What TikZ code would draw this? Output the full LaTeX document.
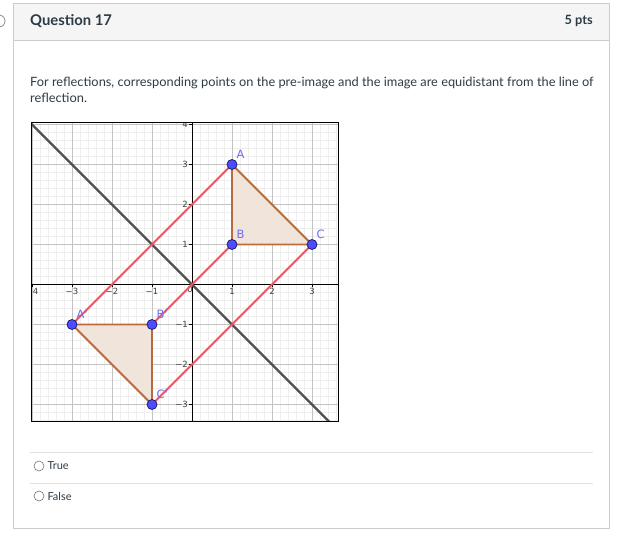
\documentclass[tikz,border=0pt]{standalone}
\usepackage{fontspec}
\setmainfont{Lato}
\newfontfamily\ggbfont{DejaVu Sans}
\usetikzlibrary{positioning}
\definecolor{qborder}{RGB}{199,205,209}
\definecolor{qhead}{RGB}{245,245,245}
\definecolor{qtext}{RGB}{45,59,69}
\definecolor{qsep}{RGB}{222,226,228}
\definecolor{gmajor}{RGB}{195,195,195}
\definecolor{gminor}{RGB}{238,238,238}
\definecolor{reflred}{RGB}{240,82,98}
\definecolor{mirrorgray}{RGB}{80,80,80}
\definecolor{triedge}{RGB}{184,108,62}
\definecolor{trifill}{RGB}{241,228,219}
\definecolor{ptblue}{RGB}{77,77,255}
\definecolor{ptdark}{RGB}{30,30,110}
\definecolor{ptlab}{RGB}{110,110,240}
\tikzset{
  refl/.style={reflred,line width=1.8pt},
  mirror/.style={mirrorgray,line width=2.2pt},
  tri/.style={draw=triedge,fill=trifill,line width=1.8pt,line join=round},
  pt/.style={circle,fill=ptblue,draw=ptdark,line width=0.8pt,minimum size=10pt,inner sep=0pt},
  ptlabel/.style={text=ptlab,font=\ggbfont\fontsize{11.5}{13}\selectfont,inner sep=0.5pt},
  ticklab/.style={text=black!75,font=\ggbfont\fontsize{8.5}{10}\selectfont,inner sep=1pt},
  radio/.style={circle,draw=black!55,line width=0.6pt,minimum size=10pt,inner sep=0pt},
}
\begin{document}
\begin{tikzpicture}[x=1pt,y=-1pt,font=\fontsize{12.8}{15}\selectfont,text=qtext]
\useasboundingbox(0,0)rectangle(622,540);
% card and header
\fill[qhead](13,3)rectangle(609,40);
\draw[qborder,line width=0.8pt](13,3)rectangle(609,528);
\draw[qborder,line width=0.8pt](13,40)--(609,40);
\draw[black!45,line width=0.8pt](-1,21)circle(6);
\node[anchor=west,inner sep=0pt,font=\bfseries\fontsize{14.8}{17}\selectfont](qtitle)at(30,21){Question 17};
\node[anchor=east,inner sep=0pt,font=\bfseries\fontsize{12.8}{15}\selectfont](qpts)at(593,21){5 pts};
\node[anchor=west,inner sep=0pt](qline1)at(30,83){For reflections, corresponding points on the pre-image and the image are equidistant from the line of};
\node[below=4pt of qline1.south west,anchor=north west,inner sep=0pt](qline2){reflection.};
% graph
\begin{scope}[shift={(192,284.5)},x=40pt,y=40pt]
\pgfmathsetmacro{\gxmin}{-4.025}
\pgfmathsetmacro{\gxmax}{3.65}
\pgfmathsetmacro{\gymin}{-3.43}
\pgfmathsetmacro{\gymax}{4.06}
\begin{scope}
\clip(\gxmin,\gymin)rectangle(\gxmax,\gymax);
\fill[white](\gxmin,\gymin)rectangle(\gxmax,\gymax);
\draw[gminor,line width=0.5pt,step=0.2](-5,-4)grid(4,5);
\draw[gmajor,line width=0.6pt,step=1](-5,-4)grid(4,5);
\draw[black,line width=0.8pt](-5,0)--(4,0);
\draw[black,line width=0.8pt](0,-4)--(0,5);
\foreach \x/\xlb in {-4/−4,-3/−3,-2/−2,-1/−1,1/1,2/2,3/3}{\draw[black,line width=0.6pt](\x,0)--++(0,-0.07)node[ticklab,below](xt\x){\xlb};}
\node[ticklab,below left](xt0)at(0.05,0){0};
\foreach \y/\ylb in {-3/−3,-2/−2,-1/−1,1/1,2/2,3/3,4/4}{\draw[black,line width=0.6pt](0,\y)--++(-0.07,0)node[ticklab,left](yt\y){\ylb};}
\draw[mirror](-4.3,4.3)--(3.6,-3.6);
\coordinate(A)at(1,3);
\coordinate(B)at(1,1);
\coordinate(C)at(3,1);
\coordinate(A1)at(-3,-1);
\coordinate(B1)at(-1,-1);
\coordinate(C1)at(-1,-3);
\draw[tri](A)--(B)--(C)--cycle;
\draw[tri](A1)--(B1)--(C1)--cycle;
\draw[refl](A)--(A1);
\draw[refl](B)--(B1);
\draw[refl](C)--(C1);
\foreach \p in {A,B,C}{
  \node[pt](p\p)at(\p){};
  \node[ptlabel,above right=1pt and 0pt of p\p](l\p){\p};
  \node[pt](p\p1)at(\p1){};
  \node[ptlabel,above right=1pt and 0pt of p\p1](l\p1){\p'};
}
\end{scope}
\draw[black,line width=1pt](\gxmin,\gymin)rectangle(\gxmax,\gymax);
\end{scope}
% answers
\draw[qsep,line width=0.8pt](30,452)--(593,452);
\draw[qsep,line width=0.8pt](30,483)--(593,483);
\node[radio](rTrue)at(39,466){};
\node[right=3pt of rTrue,inner sep=0pt,font=\fontsize{11}{13}\selectfont](tTrue){True};
\node[radio](rFalse)at(39,496){};
\node[right=3pt of rFalse,inner sep=0pt,font=\fontsize{11}{13}\selectfont](tFalse){False};
\end{tikzpicture}
\end{document}
